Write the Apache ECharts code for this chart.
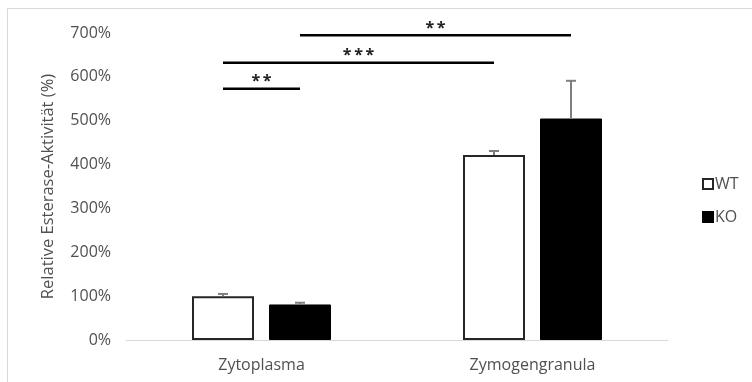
<!DOCTYPE html>
<html><head><meta charset="utf-8">
<script src="https://cdn.jsdelivr.net/npm/echarts@6/dist/echarts.min.js"></script>
<style>html,body{margin:0;padding:0;background:#fff}#c{width:752px;height:382px}</style>
</head><body><div id="c"></div>
<script>
const categories = ['Zytoplasma', 'Zymogengranula'];
const seriesNames = ['WT', 'KO'];
const wtValues = [100, 422];
const koValues = [81, 505];
const wtErrors = [5, 9];
const koErrors = [4, 86];
const yTickValues = [0, 100, 200, 300, 400, 500, 600, 700];
const sigStartCategory = [0, 0, 0];
const sigStartSeries = [0, 0, 1];
const sigEndCategory = [0, 1, 1];
const sigEndSeries = [1, 0, 1];
const sigLevel = [573, 632, 695];
const sigLabels = ['**', '***', '**'];

const FONT = '"Open Sans", sans-serif';
const TXT = '#505050';
const BAR_W = 62;
const GAP = 15;
const HALF = (BAR_W + GAP) / 2;
const seriesOffset = [-HALF, HALF];

const errData = [];
[wtValues, koValues].forEach((vals, s) => {
  const errs = s === 0 ? wtErrors : koErrors;
  vals.forEach((v, i) => errData.push([i, v, v + errs[i], s]));
});
const sigData = sigLevel.map((lv, k) => [sigStartCategory[k], sigStartSeries[k], sigEndCategory[k], sigEndSeries[k], lv, k]);

const chart = echarts.init(document.getElementById('c'), null, {renderer: 'canvas'});
chart.setOption({
  animation: false,
  backgroundColor: '#fff',
  graphic: [{type: 'rect', shape: {x: 7.5, y: 8.5, width: 800, height: 400}, style: {fill: 'none', stroke: '#d9d9d9', lineWidth: 1}, silent: true, z: -10}],
  grid: {left: 126, right: 84, top: 33, bottom: 42},
  legend: {
    orient: 'vertical', left: 697, top: 171, itemWidth: 10, itemHeight: 10, itemGap: 17,
    data: seriesNames, icon: 'rect',
    textStyle: {fontFamily: FONT, fontSize: 16, color: TXT, padding: [0, 0, 0, -3]}
  },
  xAxis: {
    type: 'category', data: categories,
    axisLine: {lineStyle: {color: '#d9d9d9', width: 1}},
    axisTick: {show: false},
    axisLabel: {fontFamily: FONT, fontSize: 16, color: TXT, margin: 17}
  },
  yAxis: {
    type: 'value', min: 0, max: 700, interval: 100,
    name: 'Relative Esterase-Aktivität (%)', nameLocation: 'middle', nameGap: 69, nameRotate: 90,
    nameTextStyle: {fontFamily: FONT, fontSize: 16.5, color: TXT},
    axisLine: {show: false}, axisTick: {show: false}, splitLine: {show: false},
    axisLabel: {fontFamily: FONT, fontSize: 16, color: TXT, margin: 15,
      formatter: v => yTickValues.includes(v) ? v + '%' : ''}
  },
  series: [
    {name: seriesNames[0], type: 'bar', data: wtValues, barWidth: BAR_W, barGap: (GAP / BAR_W * 100) + '%',
      itemStyle: {color: '#ffffff', borderColor: '#262626', borderWidth: 2}},
    {name: seriesNames[1], type: 'bar', data: koValues, barWidth: BAR_W,
      itemStyle: {color: '#000000', borderColor: '#000000', borderWidth: 1}},
    {type: 'custom', data: errData, z: 5,
      renderItem: (params, api) => {
        const c = api.value(0), s = api.value(3);
        const p0 = api.coord([c, api.value(1)]);
        const p1 = api.coord([c, api.value(2)]);
        const x = p0[0] + seriesOffset[s];
        const st = {stroke: '#7f7f7f', lineWidth: 2};
        return {type: 'group', children: [
          {type: 'line', shape: {x1: x, y1: p0[1], x2: x, y2: p1[1]}, style: st},
          {type: 'line', shape: {x1: x - 5, y1: p1[1], x2: x + 5, y2: p1[1]}, style: st}
        ]};
      }},
    {type: 'custom', data: sigData, z: 6,
      renderItem: (params, api) => {
        const a = api.coord([api.value(0), api.value(4)]);
        const b = api.coord([api.value(2), api.value(4)]);
        const x1 = a[0] + seriesOffset[api.value(1)];
        const x2 = b[0] + seriesOffset[api.value(3)];
        const y = a[1];
        return {type: 'group', children: [
          {type: 'line', shape: {x1: x1, y1: y, x2: x2, y2: y}, style: {stroke: '#000', lineWidth: 2.5}},
          {type: 'text', x: (x1 + x2) / 2, y: y - 7, style: {text: sigLabels[api.value(5)].split('').join('\u2009'), fill: '#222',
            font: 'bold 16px ' + FONT, align: 'center', verticalAlign: 'middle'}}
        ]};
      }}
  ]
});
</script></body></html>
